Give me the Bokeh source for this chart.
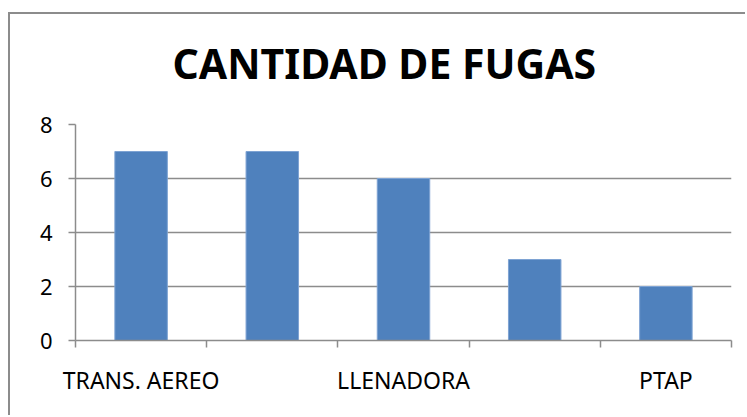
from bokeh.plotting import figure
from bokeh.models import FixedTicker, Range1d, Title, ColumnDataSource
from bokeh.embed import file_html
from bokeh.resources import INLINE

# ---- data ----
categories = ["TRANS. AEREO", "", "LLENADORA", "", "PTAP"]
positions = [1, 2, 3, 4, 5]
values = [7, 7, 6, 3, 2]
y_ticks = [0, 2, 4, 6, 8]
title_text = "CANTIDAD DE FUGAS"

GRID = "#8c8c8c"
BAR = "#4F81BD"
FONT = "Noto Sans"

src = ColumnDataSource(dict(x=positions, top=values, name=categories))

p = figure(frame_width=656, frame_height=216,
           min_border_left=75, min_border_right=14,
           min_border_top=124, min_border_bottom=75,
           x_range=Range1d(0.5, len(positions) + 0.5),
           y_range=Range1d(0, 8),
           output_backend="svg", toolbar_location=None)
# chart-area border (left and top edges only are visible in the window)
p.styles = {
    "background-color": "white",
    "background-image": f"linear-gradient({GRID},{GRID}), linear-gradient({GRID},{GRID})",
    "background-position": "8px 12px, 8px 12px",
    "background-size": "2px 100%, 100% 2px",
    "background-repeat": "no-repeat, no-repeat",
}

p.vbar(x="x", top="top", width=0.4, source=src,
       fill_color=BAR, line_color="#7ea3d3", line_width=1)

t = Title(text=title_text, align="left", vertical_align="top", text_font=FONT,
          text_font_size="41px", text_font_style="bold",
          text_color="black", offset=97, standoff=64)
p.add_layout(t, "above")

p.outline_line_color = None
p.background_fill_color = "white"
p.border_fill_color = None

# y axis
p.yaxis.ticker = FixedTicker(ticks=y_ticks)
p.yaxis.axis_line_color = GRID
p.yaxis.axis_line_width = 1.5
p.yaxis.major_tick_line_color = GRID
p.yaxis.major_tick_line_width = 1.5
p.yaxis.major_tick_out = 7
p.yaxis.major_tick_in = 0
p.yaxis.minor_tick_line_color = None
p.yaxis.major_label_text_font = FONT
p.yaxis.major_label_text_font_size = "22px"
p.yaxis.major_label_text_color = "black"
p.yaxis.major_label_standoff = 16

# x axis: labels on every other category, ticks between categories
label_pos = [pos for pos, c in zip(positions, categories) if c]
bounds = [pos - 0.5 for pos in positions] + [positions[-1] + 0.5]
p.xaxis.ticker = FixedTicker(ticks=label_pos, minor_ticks=bounds)
p.xaxis.major_label_overrides = {pos: c for pos, c in zip(positions, categories) if c}
p.xaxis.axis_line_color = GRID
p.xaxis.axis_line_width = 1.5
p.xaxis.major_tick_line_color = None
p.xaxis.major_tick_out = 0
p.xaxis.major_tick_in = 0
p.xaxis.minor_tick_line_color = GRID
p.xaxis.minor_tick_line_width = 1.5
p.xaxis.minor_tick_out = 7
p.xaxis.minor_tick_in = 0
p.xaxis.major_label_text_font = FONT
p.xaxis.major_label_text_font_size = "23px"
p.xaxis.major_label_text_color = "black"
p.xaxis.major_label_standoff = 16

p.xgrid.grid_line_color = None
p.ygrid.ticker = FixedTicker(ticks=y_ticks)
p.ygrid.grid_line_color = GRID
p.ygrid.grid_line_width = 1.5

open("out.html", "w").write(file_html(p, INLINE))
